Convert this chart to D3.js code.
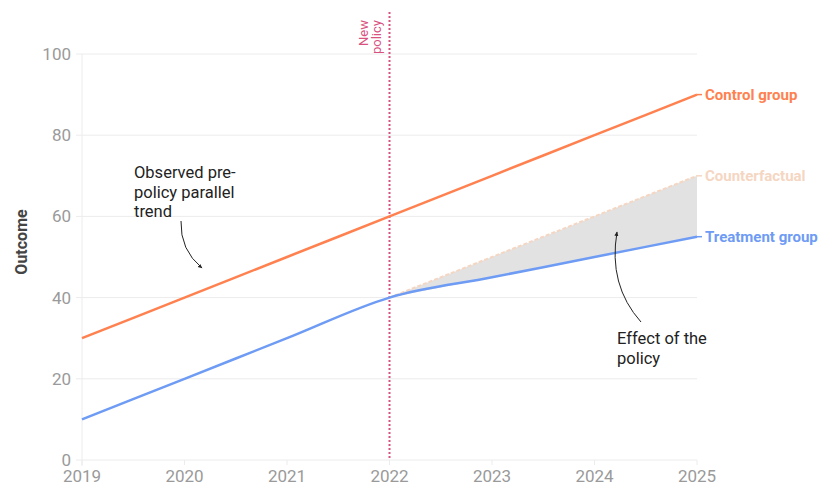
<!DOCTYPE html>
<html>
<head>
<meta charset="utf-8">
<script src="https://cdn.jsdelivr.net/npm/d3@7"></script>
<style>
  html, body { margin: 0; padding: 0; background: #fff; }
  svg { display: block; font-family: Roboto, "Noto Sans", sans-serif; }
</style>
</head>
<body>
<svg id="chart" width="829" height="484"></svg>
<script>
// Difference-in-differences illustration
const years = [2019, 2020, 2021, 2022, 2023, 2024, 2025];
const controlValues = [30, 40, 50, 60, 70, 80, 90];
const treatmentValues = [10, 20, 30, 40, 45, 50, 55];
const counterfactualYears = [2022, 2023, 2024, 2025];
const counterfactualValues = [40, 50, 60, 70];
const yTicks = [0, 20, 40, 60, 80, 100];
const policyYear = 2022;

const colors = {
  control: "#ff8150",
  treatment: "#6e9bf4",
  counterfactual: "#f5d6c2",
  policy: "#d9527f",
  shade: "#e2e2e2",
  grid: "#ececec",
  tick: "#9a9a9a",
  note: "#222"
};

const svg = d3.select("#chart");
const x = d3.scaleLinear().domain([2019, 2025]).range([82, 697]);
const y = d3.scaleLinear().domain([0, 100]).range([460, 54]);

// grid lines with short ticks to the left of the axis
svg.append("g")
  .selectAll("line")
  .data(yTicks)
  .join("line")
  .attr("x1", x(2019) - 6).attr("x2", x(2025))
  .attr("y1", d => y(d)).attr("y2", d => y(d))
  .attr("stroke", colors.grid).attr("stroke-width", 1);

// vertical axis line
svg.append("line")
  .attr("x1", x(2019)).attr("x2", x(2019))
  .attr("y1", y(100)).attr("y2", y(0) + 6)
  .attr("stroke", colors.grid);

// x ticks
svg.append("g")
  .selectAll("line")
  .data(years)
  .join("line")
  .attr("x1", d => x(d)).attr("x2", d => x(d))
  .attr("y1", y(0)).attr("y2", y(0) + 5)
  .attr("stroke", colors.grid);

// y tick labels
svg.append("g")
  .selectAll("text")
  .data(yTicks)
  .join("text")
  .attr("x", x(2019) - 11)
  .attr("y", d => y(d))
  .attr("dy", "0.35em")
  .attr("text-anchor", "end")
  .attr("font-size", 17)
  .attr("fill", colors.tick)
  .text(d => d);

// x tick labels
svg.append("g")
  .selectAll("text")
  .data(years)
  .join("text")
  .attr("x", d => x(d))
  .attr("y", 482)
  .attr("text-anchor", "middle")
  .attr("font-size", 17)
  .attr("fill", colors.tick)
  .text(d => d);

// y axis title
svg.append("text")
  .attr("transform", `translate(27, 242) rotate(-90)`)
  .attr("text-anchor", "middle")
  .attr("font-size", 16)
  .attr("font-weight", "bold")
  .attr("fill", "#444")
  .text("Outcome");

// shaded effect area between counterfactual and treatment
const effect = counterfactualYears.map((yr, i) => ({
  year: yr,
  cf: counterfactualValues[i],
  tr: treatmentValues[years.indexOf(yr)]
}));
svg.append("path")
  .datum(effect)
  .attr("d", d3.area()
    .x(d => x(d.year))
    .y0(d => y(d.tr))
    .y1(d => y(d.cf))
    .curve(d3.curveMonotoneX))
  .attr("fill", colors.shade);

// policy line
svg.append("line")
  .attr("x1", x(policyYear)).attr("x2", x(policyYear))
  .attr("y1", 12).attr("y2", y(0))
  .attr("stroke", colors.policy)
  .attr("stroke-width", 2)
  .attr("stroke-dasharray", "2,2");

const policyLabel = svg.append("text")
  .attr("transform", `translate(${x(policyYear) - 22}, 20) rotate(-90)`)
  .attr("text-anchor", "end")
  .attr("font-size", 13)
  .attr("fill", colors.policy);
policyLabel.append("tspan").attr("x", 0).attr("y", 0).text("New");
policyLabel.append("tspan").attr("x", 0).attr("y", 13.5).text("policy");

// lines
const line = d3.line()
  .x(d => x(d[0]))
  .y(d => y(d[1]))
  .curve(d3.curveMonotoneX);

svg.append("path")
  .datum(counterfactualYears.map((yr, i) => [yr, counterfactualValues[i]]))
  .attr("d", line)
  .attr("fill", "none")
  .attr("stroke", colors.counterfactual)
  .attr("stroke-width", 2)
  .attr("stroke-dasharray", "4,2");

svg.append("path")
  .datum(years.map((yr, i) => [yr, controlValues[i]]))
  .attr("d", line)
  .attr("fill", "none")
  .attr("stroke", colors.control)
  .attr("stroke-width", 2.5);

svg.append("path")
  .datum(years.map((yr, i) => [yr, treatmentValues[i]]))
  .attr("d", line)
  .attr("fill", "none")
  .attr("stroke", colors.treatment)
  .attr("stroke-width", 2.5);

// end labels
const endLabels = [
  { text: "Control group", value: controlValues[controlValues.length - 1], color: colors.control },
  { text: "Counterfactual", value: counterfactualValues[counterfactualValues.length - 1], color: colors.counterfactual },
  { text: "Treatment group", value: treatmentValues[treatmentValues.length - 1], color: colors.treatment }
];
const lbl = svg.append("g").selectAll("g").data(endLabels).join("g");
lbl.append("line")
  .attr("x1", x(2025)).attr("x2", x(2025) + 5)
  .attr("y1", d => y(d.value)).attr("y2", d => y(d.value))
  .attr("stroke", d => d.color).attr("stroke-width", 1.5);
lbl.append("text")
  .attr("x", x(2025) + 8)
  .attr("y", d => y(d.value))
  .attr("dy", "0.35em")
  .attr("font-size", 15)
  .attr("font-weight", "bold")
  .attr("fill", d => d.color)
  .text(d => d.text);

// annotations
svg.append("defs").append("marker")
  .attr("id", "arrow")
  .attr("viewBox", "0 0 10 10")
  .attr("refX", 8).attr("refY", 5)
  .attr("markerWidth", 5).attr("markerHeight", 5)
  .attr("orient", "auto")
  .append("path")
  .attr("d", "M0,1 L9,5 L0,9 Z")
  .attr("fill", colors.note);

function note(lines, tx, ty) {
  const t = svg.append("text")
    .attr("font-size", 16.5)
    .attr("fill", colors.note);
  lines.forEach((s, i) => t.append("tspan").attr("x", tx).attr("y", ty + i * 19.5).text(s));
}

note(["Observed pre-", "policy parallel", "trend"], 134, 178);
svg.append("path")
  .attr("d", "M181,221 Q180,250 202,268")
  .attr("fill", "none")
  .attr("stroke", colors.note)
  .attr("stroke-width", 1)
  .attr("marker-end", "url(#arrow)");

note(["Effect of the", "policy"], 617, 344);
svg.append("path")
  .attr("d", "M641,322 Q608,285 617,232")
  .attr("fill", "none")
  .attr("stroke", colors.note)
  .attr("stroke-width", 1)
  .attr("marker-end", "url(#arrow)");
</script>
</body>
</html>
